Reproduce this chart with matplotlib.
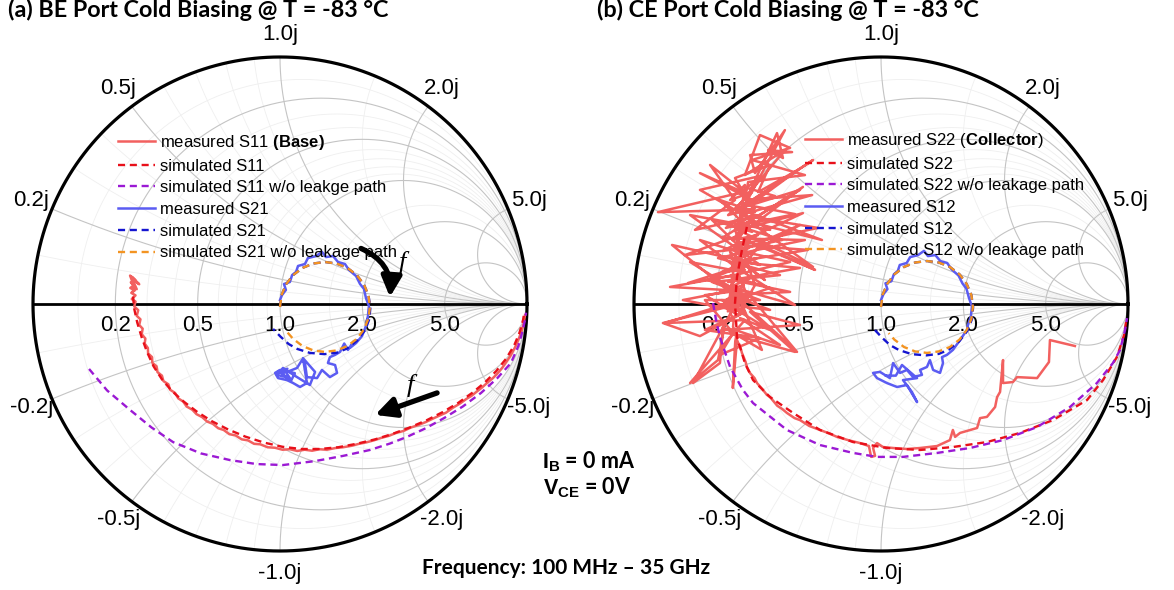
import numpy as np
import matplotlib
matplotlib.use('Agg')
import matplotlib.pyplot as plt
from matplotlib.patches import FancyArrowPatch

W, H = 1174, 590
RAD, CY = 247, 304          # circle radius and centre row (px)
CX_A, CX_B = 280, 881       # centre column of each chart (px)

plt.rcParams['font.family'] = ['Liberation Sans', 'DejaVu Sans']
plt.rcParams['mathtext.fontset'] = 'custom'
plt.rcParams['mathtext.rm'] = 'Liberation Sans'
plt.rcParams['mathtext.bf'] = 'Liberation Sans:bold'

GRID_MAJOR = [0.2, 0.5, 1.0, 2.0, 5.0]
GRID_LABELS = ['0.2', '0.5', '1.0', '2.0', '5.0']
GRID_MINOR = [0.1, 0.3, 0.4, 0.6, 0.7, 0.8, 0.9, 1.5]

C_MEAS_R = '#f2605f'
C_SIM_R = '#e8101a'
C_PURP = '#9b19d4'
C_MEAS_B = '#5b5cf2'
C_SIM_B = '#1515d0'
C_ORNG = '#f39422'

# ---------------- (a) BE port ----------------
# measured S11 (reflection coefficient, real / imag)
MS11_RE = [0.992, 0.986, 0.978, 0.965, 0.952, 0.933, 0.918, 0.900, 0.878, 0.862, 0.840, 0.818,
           0.800, 0.775, 0.755, 0.730, 0.700, 0.672, 0.645, 0.615, 0.590, 0.560, 0.530, 0.500,
           0.470, 0.440, 0.410, 0.380, 0.350, 0.320, 0.290, 0.255, 0.225, 0.190, 0.160, 0.130,
           0.100, 0.070, 0.040, 0.010, -0.020, -0.050, -0.080, -0.105, -0.130, -0.155, -0.180,
           -0.205, -0.228, -0.250, -0.272, -0.295, -0.315, -0.338, -0.355, -0.378, -0.392, -0.412,
           -0.425, -0.445, -0.452, -0.472, -0.478, -0.496, -0.500, -0.517, -0.518, -0.534, -0.535,
           -0.548, -0.545, -0.560, -0.556, -0.570, -0.565, -0.580, -0.574, -0.590, -0.585, -0.600,
           -0.585, -0.602, -0.588, -0.606, -0.592, -0.604, -0.580, -0.598, -0.570, -0.600, -0.585,
           -0.607, -0.590, -0.596]
MS11_IM = [-0.045, -0.080, -0.110, -0.145, -0.175, -0.210, -0.232, -0.258, -0.284, -0.300, -0.318,
           -0.338, -0.352, -0.372, -0.384, -0.402, -0.420, -0.440, -0.452, -0.466, -0.478, -0.490,
           -0.500, -0.514, -0.522, -0.534, -0.542, -0.552, -0.560, -0.566, -0.574, -0.580, -0.583,
           -0.590, -0.588, -0.594, -0.590, -0.595, -0.588, -0.590, -0.582, -0.580, -0.568, -0.566,
           -0.552, -0.548, -0.532, -0.527, -0.510, -0.503, -0.485, -0.476, -0.458, -0.446, -0.428,
           -0.415, -0.395, -0.382, -0.360, -0.347, -0.325, -0.312, -0.290, -0.276, -0.252, -0.238,
           -0.215, -0.200, -0.178, -0.160, -0.140, -0.122, -0.100, -0.085, -0.062, -0.048, -0.025,
           -0.010, 0.010, 0.020, 0.035, 0.045, 0.055, 0.065, 0.075, 0.088, 0.060, 0.100, 0.080,
           0.110, 0.095, 0.115, 0.070, 0.050]
SS11_RE = [-0.595, -0.590, -0.578, -0.560, -0.538, -0.512, -0.478, -0.438, -0.390, -0.335, -0.275,
           -0.210, -0.140, -0.065, 0.010, 0.085, 0.160, 0.235, 0.310, 0.385, 0.455, 0.525, 0.595,
           0.660, 0.722, 0.778, 0.830, 0.875, 0.915, 0.948, 0.970, 0.984, 0.990]
SS11_IM = [0.030, -0.020, -0.075, -0.135, -0.195, -0.252, -0.305, -0.352, -0.395, -0.437, -0.475,
           -0.508, -0.537, -0.561, -0.578, -0.587, -0.587, -0.580, -0.566, -0.548, -0.526, -0.500,
           -0.470, -0.437, -0.400, -0.360, -0.317, -0.272, -0.222, -0.168, -0.115, -0.065, -0.030]
NL11_RE = [-0.773, -0.700, -0.607, -0.520, -0.433, -0.320, -0.202, -0.095, 0.012, 0.142, 0.255,
           0.364, 0.445, 0.514, 0.590, 0.664, 0.740, 0.814, 0.880, 0.935, 0.965, 0.980, 0.992, 0.996]
NL11_IM = [-0.263, -0.350, -0.429, -0.500, -0.559, -0.605, -0.632, -0.648, -0.652, -0.636, -0.615,
           -0.591, -0.565, -0.538, -0.503, -0.462, -0.415, -0.360, -0.300, -0.239, -0.170, -0.117,
           -0.065, -0.035]
MS21_RE = [0.000, 0.008, 0.024, 0.016, 0.040, 0.049, 0.065, 0.073, 0.101, 0.113, 0.146, 0.170,
           0.186, 0.215, 0.235, 0.263, 0.279, 0.308, 0.324, 0.340, 0.348, 0.360, 0.356, 0.348,
           0.332, 0.308, 0.283, 0.300, 0.275, 0.260, 0.243, 0.223, 0.202, 0.194, 0.223, 0.231,
           0.202, 0.170, 0.150, 0.109, 0.101, 0.089, 0.069, 0.049, 0.028, 0.000, -0.020, -0.008,
           0.028, 0.053, 0.081, 0.109, 0.093, 0.142, 0.121, 0.061, 0.012, -0.012, 0.040, 0.020,
           0.060, 0.045, 0.010, 0.030, -0.005, 0.025]
MS21_IM = [0.016, 0.036, 0.057, 0.081, 0.089, 0.117, 0.130, 0.154, 0.162, 0.186, 0.194, 0.211,
           0.190, 0.194, 0.170, 0.162, 0.138, 0.113, 0.081, 0.061, 0.024, -0.008, -0.049, -0.089,
           -0.130, -0.158, -0.178, -0.150, -0.186, -0.160, -0.194, -0.206, -0.215, -0.239, -0.247,
           -0.279, -0.296, -0.267, -0.300, -0.296, -0.239, -0.227, -0.259, -0.267, -0.275, -0.267,
           -0.279, -0.300, -0.308, -0.320, -0.336, -0.320, -0.219, -0.275, -0.328, -0.291, -0.259,
           -0.287, -0.300, -0.270, -0.280, -0.310, -0.285, -0.262, -0.272, -0.295]
SS21_RE = [0.000, 0.006, 0.024, 0.053, 0.091, 0.135, 0.182, 0.229, 0.273, 0.311, 0.340, 0.358,
           0.366, 0.362, 0.345, 0.312, 0.272, 0.231, 0.180, 0.121, 0.070, 0.035, 0.003, -0.028]
SS21_IM = [-0.012, 0.035, 0.079, 0.117, 0.146, 0.164, 0.170, 0.164, 0.146, 0.117, 0.079, 0.035,
           -0.012, -0.060, -0.105, -0.148, -0.180, -0.197, -0.203, -0.198, -0.182, -0.162, -0.133,
           -0.101]
NL21_RE = [0.000, 0.006, 0.024, 0.053, 0.091, 0.135, 0.182, 0.229, 0.273, 0.311, 0.340, 0.358,
           0.364, 0.358, 0.340, 0.311, 0.273, 0.229, 0.182, 0.135, 0.091, 0.053, 0.030]
NL21_IM = [-0.012, 0.035, 0.079, 0.117, 0.146, 0.164, 0.170, 0.164, 0.146, 0.117, 0.079, 0.035,
           -0.012, -0.059, -0.103, -0.141, -0.170, -0.188, -0.194, -0.188, -0.170, -0.141, -0.115]

# ---------------- (b) CE port ----------------
MS22_RE = [0.785, 0.684, 0.680, 0.632, 0.551, 0.534, 0.494, 0.494, 0.482, 0.470, 0.462, 0.429,
           0.401, 0.389, 0.320, 0.300, 0.291, 0.279, 0.227, 0.158, 0.105, 0.049, 0.008, -0.016,
           -0.032, -0.024, -0.040, -0.049, -0.085, -0.130, -0.178, -0.215, -0.247, -0.290, -0.328,
           -0.350, -0.381, -0.400, -0.420, -0.449, -0.462, -0.480, -0.502, -0.512, -0.530, -0.543,
           -0.548, -0.563, -0.568, -0.583, -0.600, -0.590, -0.584, -0.599, -0.596, -0.610, -0.600,
           -0.644, -0.551, -0.733, -0.883, -0.591, -0.761, -0.652, -0.640, -0.482, -0.571, -0.340,
           -0.530, -0.632, -0.854, -0.591, -0.781, -0.551, -0.704, -0.348, -0.571, -0.490, -0.267,
           -0.551, -0.316, -0.579, -0.275, -0.530, -0.239, -0.563, -0.903, -0.559, -0.733, -0.522,
           -0.275, -0.551, -0.389, -0.510, -0.530, -0.360, -0.457, -0.397, -0.421, -0.538, -0.692,
           -0.591, -0.753, -0.490, -0.316, -0.571, -0.794, -0.538, -0.328, -0.579, -0.470, -0.611,
           -0.551, -0.713, -0.579, -0.510, -0.591, -0.538, -0.579, -0.522, -0.599, -0.530, -0.611,
           -0.538, -0.619, -0.555, -0.628, -0.560, -0.615, -0.545, -0.600, -0.560, -0.620,
           -0.551, -0.611, -0.522, -0.619, -0.510, -0.628, -0.530, -0.603, -0.498, -0.636, -0.538,
           -0.591, -0.502, -0.644, -0.551, -0.619, -0.530, -0.652, -0.563, -0.628, -0.547, -0.660,
           -0.449, -0.611, -0.368, -0.591, -0.401, -0.579, -0.348, -0.563, -0.429, -0.543, -0.490,
           -0.733, -0.449, -0.773, -0.490, -0.846, -0.571, -0.875, -0.551, -0.773, -0.660, -0.636,
           -0.328, -0.530, -0.348, -0.591, -0.713, -0.490, -0.684, -0.409, -0.660, -0.308, -0.644,
           -0.328, -0.591, -0.389, -0.551, -0.490, -0.368, -0.522, -0.308, -0.538,
           -0.551, -0.279, -0.571, -0.255, -0.579, -0.296, -0.591, -0.328, -0.603, -0.368, -0.611,
           -0.449, -0.619, -0.449, -0.571, -0.409, -0.591, -0.652, -0.490, -0.713, -0.551, -0.802,
           -0.591, -0.773, -0.563, -0.733, -0.538, -0.684, -0.522, -0.652, -0.510, -0.591, -0.449,
           -0.498, -0.336, -0.530]
MS22_IM = [-0.170, -0.146, -0.235, -0.300, -0.296, -0.316, -0.320, -0.227, -0.356, -0.377, -0.417,
           -0.457, -0.462, -0.502, -0.522, -0.538, -0.510, -0.551, -0.575, -0.583, -0.587, -0.583,
           -0.579, -0.563, -0.583, -0.615, -0.619, -0.575, -0.563, -0.552, -0.538, -0.522, -0.510,
           -0.494, -0.470, -0.462, -0.441, -0.425, -0.412, -0.377, -0.368, -0.345, -0.320, -0.300,
           -0.280, -0.255, -0.235, -0.198, -0.180, -0.146, -0.340, -0.150, -0.120, -0.093, -0.060,
           -0.040, -0.020, 0.016, -0.032, -0.130, -0.077, -0.004, -0.320, -0.239, -0.093, -0.186,
           0.016, -0.194, 0.032, 0.057, 0.069, 0.117, 0.085, 0.158, 0.097, -0.004, 0.138, 0.239,
           0.138, 0.259, 0.368, 0.300, 0.150, 0.332, 0.259, 0.381, 0.372, 0.453, 0.530, 0.421,
           0.583, 0.401, 0.704, 0.530, 0.603, 0.615, 0.623, 0.591, 0.692, 0.441, 0.563, 0.421,
           0.300, 0.360, 0.474, 0.279, 0.198, 0.227, 0.320, 0.178, 0.097, 0.211, 0.057, 0.036,
           -0.045, 0.077, 0.300, 0.421, 0.320, 0.360, 0.219, 0.259, 0.138, 0.170, 0.057, 0.077,
           -0.004, 0.030, 0.015, 0.045, 0.000, 0.010, -0.030,
           0.482, 0.421, 0.453, 0.360, 0.389, 0.308, 0.332, 0.259, 0.279, 0.219, 0.227,
           0.170, 0.186, 0.130, 0.138, 0.089, 0.105, 0.049, 0.057, 0.016, 0.024, -0.008,
           0.065, 0.113, 0.170, 0.219, 0.259, 0.316, 0.364, 0.405, 0.437, 0.470, 0.518,
           0.462, 0.300, 0.360, 0.158, 0.239, 0.016, -0.077, -0.065, -0.320, -0.227, -0.105,
           -0.085, -0.032, -0.194, -0.126, 0.016, 0.016, 0.089, 0.117, 0.186, 0.259, 0.267,
           0.462, 0.381, 0.623, 0.522, 0.684, 0.632, 0.583, 0.522, 0.494,
           0.421, 0.441, 0.360, 0.308, 0.239, 0.219, 0.170, 0.146, 0.097, 0.049, 0.036,
           -0.024, -0.004, -0.105, -0.057, -0.166, -0.105, -0.206, -0.138, -0.105, -0.032, 0.016,
           0.057, 0.170, 0.130, 0.259, 0.198, 0.340, 0.292, 0.421, 0.373, 0.510, 0.563,
           0.453, 0.543, 0.401]
SS22_RE = [-0.543, -0.563, -0.583, -0.591, -0.583, -0.551, -0.518, -0.449, -0.356, -0.247, -0.113,
           0.024, 0.158, 0.291, 0.429, 0.563, 0.696, 0.834, 0.899, 0.955, 0.984, 0.992]
SS22_IM = [0.312, 0.219, 0.109, 0.004, -0.134, -0.239, -0.308, -0.377, -0.441, -0.510, -0.559,
           -0.583, -0.591, -0.579, -0.559, -0.522, -0.470, -0.389, -0.308, -0.215, -0.126, -0.073]
NL22_RE = [-0.680, -0.668, -0.652, -0.611, -0.559, -0.518, -0.381, -0.247, -0.113, -0.016, 0.089,
           0.227, 0.360, 0.494, 0.632, 0.765, 0.874, 0.939, 0.968, 0.988, 0.996]
NL22_IM = [0.004, -0.065, -0.134, -0.255, -0.348, -0.401, -0.510, -0.571, -0.603, -0.619, -0.619,
           -0.603, -0.583, -0.551, -0.498, -0.417, -0.320, -0.239, -0.186, -0.105, -0.057]
MS12_RE = [0.000, 0.010, 0.026, 0.018, 0.042, 0.052, 0.068, 0.076, 0.104, 0.118, 0.150, 0.174,
           0.190, 0.220, 0.240, 0.268, 0.286, 0.314, 0.330, 0.346, 0.356, 0.368, 0.364, 0.352,
           0.348, 0.320, 0.291, 0.267, 0.247, 0.251, 0.239, 0.211, 0.198, 0.186, 0.158, 0.166,
           0.130, 0.105, 0.077, 0.049, 0.036, -0.004, -0.032, -0.016, 0.024, 0.065, 0.105, 0.146,
           0.125, 0.089, 0.146, 0.085, 0.060, 0.020]
MS12_IM = [0.016, 0.040, 0.060, 0.084, 0.092, 0.120, 0.134, 0.158, 0.166, 0.190, 0.198, 0.215,
           0.194, 0.198, 0.174, 0.166, 0.140, 0.115, 0.083, 0.062, 0.025, -0.010, -0.050, -0.085,
           -0.105, -0.146, -0.186, -0.206, -0.215, -0.239, -0.279, -0.267, -0.227, -0.255, -0.267,
           -0.287, -0.296, -0.267, -0.279, -0.239, -0.300, -0.275, -0.279, -0.300, -0.320, -0.336,
           -0.328, -0.397, -0.356, -0.308, -0.300, -0.247, -0.290, -0.290]
SS12_RE = [0.000, 0.006, 0.025, 0.054, 0.093, 0.138, 0.186, 0.234, 0.279, 0.318, 0.347, 0.366,
           0.373, 0.368, 0.350, 0.316, 0.276, 0.234, 0.183, 0.124, 0.072, 0.036, 0.004, -0.026]
SS12_IM = [-0.012, 0.036, 0.081, 0.120, 0.150, 0.168, 0.174, 0.168, 0.150, 0.120, 0.081, 0.036,
           -0.012, -0.062, -0.108, -0.152, -0.184, -0.202, -0.208, -0.203, -0.186, -0.166, -0.136,
           -0.104]
NL12_RE = [0.000, 0.006, 0.025, 0.054, 0.093, 0.138, 0.186, 0.234, 0.279, 0.318, 0.347, 0.366,
           0.372, 0.366, 0.347, 0.318, 0.279, 0.234, 0.186, 0.138, 0.093, 0.054, 0.031]
NL12_IM = [-0.012, 0.036, 0.081, 0.120, 0.150, 0.168, 0.174, 0.168, 0.150, 0.120, 0.081, 0.036,
           -0.012, -0.060, -0.105, -0.144, -0.174, -0.192, -0.198, -0.192, -0.174, -0.144, -0.118]

DASH = (0, (3, 2))

fig = plt.figure(figsize=(W / 100, H / 100), dpi=100)


def smith_axes(cx):
    a = 1.12
    ax = fig.add_axes([(cx - a * RAD) / W, (H - CY - a * RAD) / H,
                       2 * a * RAD / W, 2 * a * RAD / H])
    ax.set_xlim(-a, a)
    ax.set_ylim(-a, a)
    ax.axis('off')
    t = np.linspace(0, 2 * np.pi, 721)
    rr = np.concatenate([[0.0], np.logspace(-3, 4, 800)])
    for vals, col, lw in ((GRID_MINOR, '#efefef', 0.6), (GRID_MAJOR, '#c4c4c4', 0.8)):
        for v in vals:
            ax.plot(v / (1 + v) + np.cos(t) / (1 + v), np.sin(t) / (1 + v),
                    color=col, lw=lw, zorder=1)
            for s in (1, -1):
                z = rr + 1j * s * v
                g = (z - 1) / (z + 1)
                ax.plot(g.real, g.imag, color=col, lw=lw, zorder=1)
    ax.plot(np.cos(t), np.sin(t), color='k', lw=2.3, zorder=2)
    ax.plot([-1, 1], [0, 0], color='k', lw=2, zorder=2)
    for v, s in zip(GRID_MAJOR, GRID_LABELS):
        ax.text((v - 1) / (v + 1), -0.088, s, ha='center', va='center',
                fontsize=16, zorder=2)
        ang = np.pi - 2 * np.arctan(v)
        for sign, pre in ((1, ''), (-1, '-')):
            ax.text(1.09 * np.cos(ang), sign * 1.09 * np.sin(ang), pre + s + 'j',
                    ha='center', va='center', fontsize=16, zorder=2)
    return ax


def draw_port(ax, meas_r, sim_r, nl_r, meas_b, sim_b, nl_b, labels, leg_xy):
    h1, = ax.plot(*meas_r, color=C_MEAS_R, lw=1.8, zorder=3)
    h2, = ax.plot(*sim_r, color=C_SIM_R, lw=1.7, ls=DASH, zorder=4)
    h3, = ax.plot(*nl_r, color=C_PURP, lw=1.7, ls=DASH, zorder=4)
    h4, = ax.plot(*meas_b, color=C_MEAS_B, lw=1.8, zorder=3)
    h5, = ax.plot(*sim_b, color=C_SIM_B, lw=1.7, ls=DASH, zorder=4)
    h6, = ax.plot(*nl_b, color=C_ORNG, lw=1.7, ls=DASH, zorder=5)
    ax.legend([h1, h2, h3, h4, h5, h6], labels, loc='upper left',
              bbox_to_anchor=(leg_xy[0] / W, 1 - leg_xy[1] / H),
              bbox_transform=fig.transFigure, frameon=False, fontsize=12,
              handlelength=2.2, handletextpad=0.3, labelspacing=0.4,
              borderpad=0, borderaxespad=0)


ax_a = smith_axes(CX_A)
draw_port(ax_a, (MS11_RE, MS11_IM), (SS11_RE, SS11_IM), (NL11_RE, NL11_IM),
          (MS21_RE, MS21_IM), (SS21_RE, SS21_IM), (NL21_RE, NL21_IM),
          [r'measured S11 $\mathbf{(Base)}$', 'simulated S11',
           'simulated S11 w/o leakge path', 'measured S21', 'simulated S21',
           'simulated S21 w/o leakage path'], (118, 133))

ax_b = smith_axes(CX_B)
draw_port(ax_b, (MS22_RE, MS22_IM), (SS22_RE, SS22_IM), (NL22_RE, NL22_IM),
          (MS12_RE, MS12_IM), (SS12_RE, SS12_IM), (NL12_RE, NL12_IM),
          [r'measured S22 ($\mathbf{Collector}$)', 'simulated S22',
           'simulated S22 w/o leakage path', 'measured S12', 'simulated S12',
           'simulated S12 w/o leakage path'], (805, 131))

# frequency direction arrows on the BE chart
arrow_kw = dict(arrowstyle='-|>,head_length=1.1,head_width=0.55', mutation_scale=11,
                lw=3.8, color='k', zorder=6, shrinkA=0, shrinkB=0)
ax_a.add_patch(FancyArrowPatch((0.328, 0.225), (0.445, 0.028),
                               connectionstyle='arc3,rad=-0.35', **arrow_kw))
ax_a.add_patch(FancyArrowPatch((0.636, -0.360), (0.385, -0.449), **arrow_kw))
for fx, fy in ((0.494, 0.166), (0.526, -0.330)):
    ax_a.text(fx, fy, 'f', fontfamily='Liberation Serif', style='italic',
              fontsize=19, ha='center', va='center', zorder=6)

bold = dict(fontfamily=['Lato', 'DejaVu Sans'], fontweight='bold')
fig.text(8 / W, 1 - 10 / H, '(a) BE Port Cold Biasing @ T = -83 \u00b0C',
         ha='left', va='center', fontsize=16.8, **bold)
fig.text(597 / W, 1 - 10 / H, '(b) CE Port Cold Biasing @ T = -83 \u00b0C',
         ha='left', va='center', fontsize=16.8, **bold)
fig.text(589 / W, 1 - 462 / H, r'$\mathbf{I_B}$ = 0 mA', ha='center', va='center',
         fontsize=15.5, **bold)
fig.text(587 / W, 1 - 488 / H, r'$\mathbf{V_{CE}}$ = 0V', ha='center', va='center',
         fontsize=15.5, **bold)
fig.text(566 / W, 1 - 568 / H, 'Frequency: 100 MHz \u2013 35 GHz', ha='center',
         va='center', fontsize=15, **bold)

fig.savefig('out.png', dpi=100)
